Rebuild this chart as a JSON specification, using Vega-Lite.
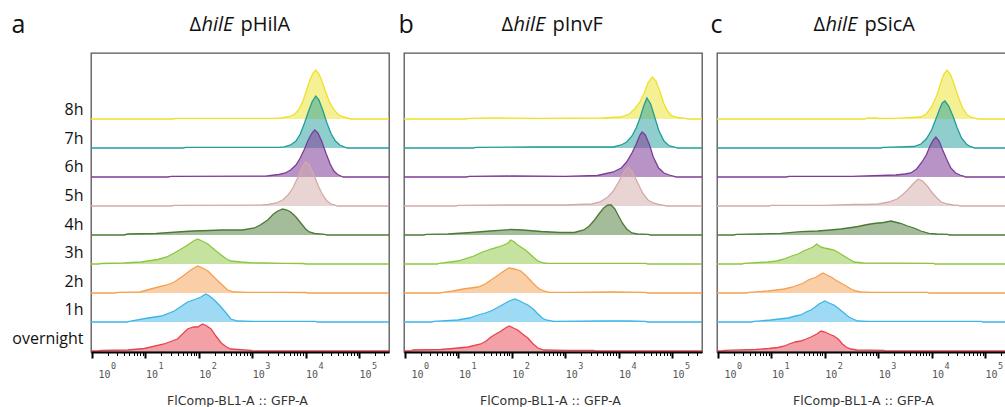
{
"$schema":"https://vega.github.io/schema/vega-lite/v6.json",
"padding":{"left":10,"top":11,"right":0,"bottom":0},
"config":{"view":{"stroke":"#555555","strokeWidth":1.3},"axis":{"grid":false},"font":"Open Sans"},
"datasets":{
"rows":[{"t":"8h"},{"t":"7h"},{"t":"6h"},{"t":"5h"},{"t":"4h"},{"t":"3h"},{"t":"2h"},{"t":"1h"},{"t":"overnight"}],
"a":[
{"t":"8h","lg":-0.019,"n":0},{"t":"8h","lg":1.5,"n":0},{"t":"8h","lg":1.6,"n":0.6},{"t":"8h","lg":3.4,"n":0.6},{"t":"8h","lg":3.55,"n":1},{"t":"8h","lg":3.7,"n":2.5},{"t":"8h","lg":3.8,"n":5},{"t":"8h","lg":3.88,"n":10},{"t":"8h","lg":3.95,"n":18},{"t":"8h","lg":4.02,"n":29},{"t":"8h","lg":4.08,"n":39},{"t":"8h","lg":4.14,"n":46},{"t":"8h","lg":4.19,"n":49},{"t":"8h","lg":4.24,"n":46},{"t":"8h","lg":4.3,"n":39},{"t":"8h","lg":4.37,"n":28},{"t":"8h","lg":4.44,"n":18},{"t":"8h","lg":4.52,"n":10},{"t":"8h","lg":4.6,"n":5},{"t":"8h","lg":4.68,"n":2.5},{"t":"8h","lg":4.78,"n":1},{"t":"8h","lg":4.85,"n":0},{"t":"8h","lg":5.562,"n":0},
{"t":"7h","lg":-0.019,"n":0},{"t":"7h","lg":1.7,"n":0},{"t":"7h","lg":1.76,"n":0.6},{"t":"7h","lg":3.5,"n":0.6},{"t":"7h","lg":3.6,"n":1.2},{"t":"7h","lg":3.72,"n":3},{"t":"7h","lg":3.82,"n":7},{"t":"7h","lg":3.9,"n":14},{"t":"7h","lg":3.98,"n":25},{"t":"7h","lg":4.05,"n":36},{"t":"7h","lg":4.12,"n":46},{"t":"7h","lg":4.19,"n":52},{"t":"7h","lg":4.25,"n":48},{"t":"7h","lg":4.32,"n":38},{"t":"7h","lg":4.4,"n":25},{"t":"7h","lg":4.48,"n":14},{"t":"7h","lg":4.56,"n":7},{"t":"7h","lg":4.64,"n":3},{"t":"7h","lg":4.72,"n":1.2},{"t":"7h","lg":4.78,"n":0},{"t":"7h","lg":5.562,"n":0},
{"t":"6h","lg":-0.019,"n":0},{"t":"6h","lg":1.42,"n":0},{"t":"6h","lg":1.48,"n":0.6},{"t":"6h","lg":3.25,"n":0.8},{"t":"6h","lg":3.35,"n":1.5},{"t":"6h","lg":3.5,"n":2.5},{"t":"6h","lg":3.62,"n":4},{"t":"6h","lg":3.72,"n":7},{"t":"6h","lg":3.82,"n":12},{"t":"6h","lg":3.9,"n":19},{"t":"6h","lg":3.98,"n":28},{"t":"6h","lg":4.05,"n":37},{"t":"6h","lg":4.12,"n":44},{"t":"6h","lg":4.17,"n":47},{"t":"6h","lg":4.23,"n":44},{"t":"6h","lg":4.3,"n":36},{"t":"6h","lg":4.38,"n":24},{"t":"6h","lg":4.46,"n":13},{"t":"6h","lg":4.53,"n":6},{"t":"6h","lg":4.6,"n":2.5},{"t":"6h","lg":4.66,"n":1},{"t":"6h","lg":4.7,"n":0},{"t":"6h","lg":5.562,"n":0},
{"t":"5h","lg":-0.019,"n":0},{"t":"5h","lg":1.48,"n":0},{"t":"5h","lg":1.54,"n":0.6},{"t":"5h","lg":3.15,"n":0.8},{"t":"5h","lg":3.3,"n":1.5},{"t":"5h","lg":3.45,"n":3},{"t":"5h","lg":3.57,"n":6},{"t":"5h","lg":3.67,"n":11},{"t":"5h","lg":3.76,"n":18},{"t":"5h","lg":3.85,"n":28},{"t":"5h","lg":3.93,"n":38},{"t":"5h","lg":4.0,"n":44},{"t":"5h","lg":4.07,"n":41},{"t":"5h","lg":4.15,"n":32},{"t":"5h","lg":4.23,"n":21},{"t":"5h","lg":4.32,"n":11},{"t":"5h","lg":4.4,"n":5},{"t":"5h","lg":4.48,"n":2},{"t":"5h","lg":4.55,"n":0.8},{"t":"5h","lg":4.6,"n":0},{"t":"5h","lg":5.562,"n":0},
{"t":"4h","lg":-0.019,"n":0},{"t":"4h","lg":0.6,"n":0},{"t":"4h","lg":0.67,"n":1},{"t":"4h","lg":1.2,"n":1.5},{"t":"4h","lg":1.6,"n":3},{"t":"4h","lg":1.89,"n":4},{"t":"4h","lg":2.2,"n":4.5},{"t":"4h","lg":2.42,"n":5},{"t":"4h","lg":2.82,"n":5},{"t":"4h","lg":3.04,"n":7},{"t":"4h","lg":3.15,"n":10},{"t":"4h","lg":3.29,"n":15},{"t":"4h","lg":3.4,"n":21},{"t":"4h","lg":3.48,"n":24},{"t":"4h","lg":3.57,"n":26},{"t":"4h","lg":3.65,"n":25},{"t":"4h","lg":3.72,"n":23},{"t":"4h","lg":3.82,"n":18},{"t":"4h","lg":3.91,"n":12},{"t":"4h","lg":4.0,"n":6},{"t":"4h","lg":4.07,"n":3},{"t":"4h","lg":4.17,"n":1.5},{"t":"4h","lg":4.36,"n":0.6},{"t":"4h","lg":4.4,"n":0},{"t":"4h","lg":5.562,"n":0},
{"t":"3h","lg":-0.019,"n":0},{"t":"3h","lg":0.12,"n":0},{"t":"3h","lg":0.17,"n":0.5},{"t":"3h","lg":0.6,"n":1},{"t":"3h","lg":0.92,"n":2},{"t":"3h","lg":1.23,"n":4.5},{"t":"3h","lg":1.4,"n":7},{"t":"3h","lg":1.54,"n":11},{"t":"3h","lg":1.7,"n":16},{"t":"3h","lg":1.79,"n":19},{"t":"3h","lg":1.9,"n":23},{"t":"3h","lg":1.98,"n":25},{"t":"3h","lg":2.06,"n":23},{"t":"3h","lg":2.17,"n":20},{"t":"3h","lg":2.3,"n":14},{"t":"3h","lg":2.42,"n":9},{"t":"3h","lg":2.52,"n":5},{"t":"3h","lg":2.6,"n":3},{"t":"3h","lg":2.79,"n":2},{"t":"3h","lg":3.0,"n":1.2},{"t":"3h","lg":3.22,"n":1},{"t":"3h","lg":3.6,"n":0.6},{"t":"3h","lg":3.95,"n":0.5},{"t":"3h","lg":4.0,"n":0},{"t":"3h","lg":5.562,"n":0},
{"t":"2h","lg":-0.019,"n":0},{"t":"2h","lg":0.44,"n":0},{"t":"2h","lg":0.48,"n":0.6},{"t":"2h","lg":0.9,"n":1},{"t":"2h","lg":1.17,"n":5},{"t":"2h","lg":1.4,"n":8},{"t":"2h","lg":1.54,"n":11},{"t":"2h","lg":1.73,"n":18},{"t":"2h","lg":1.85,"n":23},{"t":"2h","lg":1.98,"n":27},{"t":"2h","lg":2.07,"n":25},{"t":"2h","lg":2.17,"n":22},{"t":"2h","lg":2.36,"n":12},{"t":"2h","lg":2.54,"n":3},{"t":"2h","lg":2.66,"n":1},{"t":"2h","lg":2.92,"n":0.6},{"t":"2h","lg":3.5,"n":0.6},{"t":"2h","lg":4.0,"n":0.5},{"t":"2h","lg":4.05,"n":0},{"t":"2h","lg":5.562,"n":0},
{"t":"1h","lg":-0.019,"n":0},{"t":"1h","lg":0.65,"n":0},{"t":"1h","lg":0.7,"n":0.6},{"t":"1h","lg":1.05,"n":4},{"t":"1h","lg":1.3,"n":6},{"t":"1h","lg":1.54,"n":11},{"t":"1h","lg":1.79,"n":20},{"t":"1h","lg":1.95,"n":23},{"t":"1h","lg":2.04,"n":25},{"t":"1h","lg":2.13,"n":28},{"t":"1h","lg":2.2,"n":26},{"t":"1h","lg":2.29,"n":22},{"t":"1h","lg":2.4,"n":16},{"t":"1h","lg":2.48,"n":11},{"t":"1h","lg":2.6,"n":3},{"t":"1h","lg":2.73,"n":1},{"t":"1h","lg":3.0,"n":0.6},{"t":"1h","lg":4.18,"n":0.6},{"t":"1h","lg":4.22,"n":0},{"t":"1h","lg":5.562,"n":0},
{"t":"overnight","lg":-0.019,"n":0},{"t":"overnight","lg":0.12,"n":0},{"t":"overnight","lg":0.17,"n":0.5},{"t":"overnight","lg":0.67,"n":1},{"t":"overnight","lg":0.98,"n":2.5},{"t":"overnight","lg":1.35,"n":7},{"t":"overnight","lg":1.6,"n":12},{"t":"overnight","lg":1.79,"n":22},{"t":"overnight","lg":1.9,"n":24},{"t":"overnight","lg":1.98,"n":24},{"t":"overnight","lg":2.07,"n":27},{"t":"overnight","lg":2.15,"n":25},{"t":"overnight","lg":2.23,"n":22},{"t":"overnight","lg":2.32,"n":15},{"t":"overnight","lg":2.42,"n":8},{"t":"overnight","lg":2.52,"n":4},{"t":"overnight","lg":2.6,"n":2},{"t":"overnight","lg":2.98,"n":0.7},{"t":"overnight","lg":3.0,"n":0},{"t":"overnight","lg":5.562,"n":0}
],
"b":[
{"t":"8h","lg":-0.019,"n":0},{"t":"8h","lg":1.15,"n":0},{"t":"8h","lg":1.2,"n":0.6},{"t":"8h","lg":1.7,"n":1},{"t":"8h","lg":2.5,"n":0.6},{"t":"8h","lg":3.7,"n":1},{"t":"8h","lg":4.05,"n":2},{"t":"8h","lg":4.2,"n":5},{"t":"8h","lg":4.3,"n":10},{"t":"8h","lg":4.4,"n":17},{"t":"8h","lg":4.48,"n":26},{"t":"8h","lg":4.55,"n":36},{"t":"8h","lg":4.63,"n":42},{"t":"8h","lg":4.7,"n":38},{"t":"8h","lg":4.77,"n":28},{"t":"8h","lg":4.85,"n":15},{"t":"8h","lg":4.93,"n":7},{"t":"8h","lg":5.0,"n":3},{"t":"8h","lg":5.1,"n":1.5},{"t":"8h","lg":5.26,"n":0.6},{"t":"8h","lg":5.3,"n":0},{"t":"8h","lg":5.562,"n":0},
{"t":"7h","lg":-0.019,"n":0},{"t":"7h","lg":1.28,"n":0},{"t":"7h","lg":1.33,"n":0.6},{"t":"7h","lg":2.4,"n":1},{"t":"7h","lg":3.9,"n":1},{"t":"7h","lg":4.05,"n":3},{"t":"7h","lg":4.15,"n":6},{"t":"7h","lg":4.25,"n":12},{"t":"7h","lg":4.33,"n":20},{"t":"7h","lg":4.4,"n":30},{"t":"7h","lg":4.47,"n":42},{"t":"7h","lg":4.53,"n":50},{"t":"7h","lg":4.6,"n":44},{"t":"7h","lg":4.67,"n":32},{"t":"7h","lg":4.75,"n":18},{"t":"7h","lg":4.85,"n":7},{"t":"7h","lg":4.95,"n":2},{"t":"7h","lg":5.07,"n":0.6},{"t":"7h","lg":5.1,"n":0},{"t":"7h","lg":5.562,"n":0},
{"t":"6h","lg":-0.019,"n":0},{"t":"6h","lg":1.15,"n":0},{"t":"6h","lg":1.2,"n":0.6},{"t":"6h","lg":2.0,"n":1},{"t":"6h","lg":3.0,"n":0.6},{"t":"6h","lg":3.6,"n":1.5},{"t":"6h","lg":3.73,"n":3},{"t":"6h","lg":3.9,"n":5},{"t":"6h","lg":4.05,"n":9},{"t":"6h","lg":4.15,"n":15},{"t":"6h","lg":4.25,"n":24},{"t":"6h","lg":4.33,"n":33},{"t":"6h","lg":4.4,"n":42},{"t":"6h","lg":4.44,"n":45},{"t":"6h","lg":4.5,"n":42},{"t":"6h","lg":4.58,"n":32},{"t":"6h","lg":4.65,"n":20},{"t":"6h","lg":4.75,"n":9},{"t":"6h","lg":4.85,"n":4},{"t":"6h","lg":4.95,"n":2},{"t":"6h","lg":5.04,"n":0.6},{"t":"6h","lg":5.08,"n":0},{"t":"6h","lg":5.562,"n":0},
{"t":"5h","lg":-0.019,"n":0},{"t":"5h","lg":0.95,"n":0},{"t":"5h","lg":1.0,"n":0.6},{"t":"5h","lg":2.0,"n":1},{"t":"5h","lg":3.0,"n":1},{"t":"5h","lg":3.5,"n":2},{"t":"5h","lg":3.65,"n":4},{"t":"5h","lg":3.8,"n":9},{"t":"5h","lg":3.9,"n":15},{"t":"5h","lg":4.0,"n":24},{"t":"5h","lg":4.1,"n":34},{"t":"5h","lg":4.18,"n":39},{"t":"5h","lg":4.26,"n":34},{"t":"5h","lg":4.35,"n":24},{"t":"5h","lg":4.45,"n":13},{"t":"5h","lg":4.55,"n":6},{"t":"5h","lg":4.65,"n":3},{"t":"5h","lg":4.75,"n":1.5},{"t":"5h","lg":4.85,"n":0.6},{"t":"5h","lg":4.9,"n":0},{"t":"5h","lg":5.562,"n":0},
{"t":"4h","lg":-0.019,"n":0},{"t":"4h","lg":0.35,"n":0},{"t":"4h","lg":0.4,"n":0.6},{"t":"4h","lg":0.8,"n":1},{"t":"4h","lg":1.24,"n":2.5},{"t":"4h","lg":1.6,"n":4},{"t":"4h","lg":1.98,"n":5.5},{"t":"4h","lg":2.2,"n":5},{"t":"4h","lg":2.55,"n":3.5},{"t":"4h","lg":2.9,"n":2.5},{"t":"4h","lg":3.17,"n":2.5},{"t":"4h","lg":3.35,"n":5},{"t":"4h","lg":3.45,"n":9},{"t":"4h","lg":3.55,"n":15},{"t":"4h","lg":3.63,"n":21},{"t":"4h","lg":3.72,"n":27},{"t":"4h","lg":3.8,"n":30},{"t":"4h","lg":3.86,"n":30},{"t":"4h","lg":3.93,"n":26},{"t":"4h","lg":4.0,"n":19},{"t":"4h","lg":4.07,"n":12},{"t":"4h","lg":4.15,"n":6},{"t":"4h","lg":4.25,"n":2},{"t":"4h","lg":4.35,"n":1},{"t":"4h","lg":4.55,"n":0.6},{"t":"4h","lg":4.6,"n":0},{"t":"4h","lg":5.562,"n":0},
{"t":"3h","lg":-0.019,"n":0},{"t":"3h","lg":0.6,"n":0},{"t":"3h","lg":0.64,"n":0.6},{"t":"3h","lg":0.99,"n":3},{"t":"3h","lg":1.29,"n":8},{"t":"3h","lg":1.45,"n":12},{"t":"3h","lg":1.61,"n":15},{"t":"3h","lg":1.75,"n":17},{"t":"3h","lg":1.85,"n":19},{"t":"3h","lg":1.93,"n":21},{"t":"3h","lg":1.98,"n":24},{"t":"3h","lg":2.05,"n":22},{"t":"3h","lg":2.11,"n":19},{"t":"3h","lg":2.2,"n":16},{"t":"3h","lg":2.3,"n":12},{"t":"3h","lg":2.4,"n":7},{"t":"3h","lg":2.49,"n":3},{"t":"3h","lg":2.6,"n":1},{"t":"3h","lg":2.68,"n":0.7},{"t":"3h","lg":4.5,"n":0.6},{"t":"3h","lg":4.55,"n":0},{"t":"3h","lg":5.562,"n":0},
{"t":"2h","lg":-0.019,"n":0},{"t":"2h","lg":0.66,"n":0},{"t":"2h","lg":0.71,"n":0.6},{"t":"2h","lg":0.9,"n":2},{"t":"2h","lg":1.09,"n":4},{"t":"2h","lg":1.37,"n":6},{"t":"2h","lg":1.5,"n":9},{"t":"2h","lg":1.61,"n":13},{"t":"2h","lg":1.72,"n":17},{"t":"2h","lg":1.8,"n":20},{"t":"2h","lg":1.88,"n":23},{"t":"2h","lg":1.95,"n":25},{"t":"2h","lg":2.05,"n":24},{"t":"2h","lg":2.17,"n":22},{"t":"2h","lg":2.27,"n":17},{"t":"2h","lg":2.36,"n":12},{"t":"2h","lg":2.45,"n":7},{"t":"2h","lg":2.52,"n":4},{"t":"2h","lg":2.6,"n":2},{"t":"2h","lg":2.7,"n":0.7},{"t":"2h","lg":3.1,"n":0.6},{"t":"2h","lg":3.9,"n":1},{"t":"2h","lg":4.5,"n":0.6},{"t":"2h","lg":4.55,"n":0},{"t":"2h","lg":5.562,"n":0},
{"t":"1h","lg":-0.019,"n":0},{"t":"1h","lg":0.5,"n":0},{"t":"1h","lg":0.54,"n":0.6},{"t":"1h","lg":0.99,"n":2},{"t":"1h","lg":1.2,"n":4},{"t":"1h","lg":1.37,"n":7},{"t":"1h","lg":1.5,"n":9},{"t":"1h","lg":1.61,"n":11},{"t":"1h","lg":1.75,"n":15},{"t":"1h","lg":1.85,"n":18},{"t":"1h","lg":1.95,"n":21},{"t":"1h","lg":2.06,"n":23},{"t":"1h","lg":2.15,"n":21},{"t":"1h","lg":2.22,"n":19},{"t":"1h","lg":2.3,"n":17},{"t":"1h","lg":2.4,"n":13},{"t":"1h","lg":2.49,"n":8},{"t":"1h","lg":2.57,"n":4},{"t":"1h","lg":2.64,"n":2},{"t":"1h","lg":2.79,"n":0.6},{"t":"1h","lg":3.7,"n":1},{"t":"1h","lg":4.2,"n":1},{"t":"1h","lg":4.5,"n":0.6},{"t":"1h","lg":4.55,"n":0},{"t":"1h","lg":5.562,"n":0},
{"t":"overnight","lg":-0.019,"n":0},{"t":"overnight","lg":0.1,"n":0},{"t":"overnight","lg":0.15,"n":1},{"t":"overnight","lg":0.67,"n":1.5},{"t":"overnight","lg":0.9,"n":2.5},{"t":"overnight","lg":1.18,"n":4},{"t":"overnight","lg":1.42,"n":7},{"t":"overnight","lg":1.52,"n":10},{"t":"overnight","lg":1.61,"n":14},{"t":"overnight","lg":1.7,"n":17},{"t":"overnight","lg":1.8,"n":20},{"t":"overnight","lg":1.88,"n":23},{"t":"overnight","lg":1.95,"n":25},{"t":"overnight","lg":2.03,"n":23},{"t":"overnight","lg":2.11,"n":21},{"t":"overnight","lg":2.2,"n":17},{"t":"overnight","lg":2.3,"n":13},{"t":"overnight","lg":2.4,"n":7},{"t":"overnight","lg":2.49,"n":3},{"t":"overnight","lg":2.6,"n":1},{"t":"overnight","lg":3.0,"n":0.7},{"t":"overnight","lg":3.54,"n":0.6},{"t":"overnight","lg":3.56,"n":0},{"t":"overnight","lg":5.562,"n":0}
],
"c":[
{"t":"8h","lg":-0.019,"n":0},{"t":"8h","lg":2.75,"n":0},{"t":"8h","lg":2.8,"n":1},{"t":"8h","lg":2.96,"n":1},{"t":"8h","lg":3.0,"n":0.5},{"t":"8h","lg":3.33,"n":0.6},{"t":"8h","lg":3.8,"n":2},{"t":"8h","lg":3.9,"n":5},{"t":"8h","lg":4.0,"n":12},{"t":"8h","lg":4.1,"n":24},{"t":"8h","lg":4.17,"n":36},{"t":"8h","lg":4.23,"n":45},{"t":"8h","lg":4.29,"n":49},{"t":"8h","lg":4.35,"n":45},{"t":"8h","lg":4.42,"n":35},{"t":"8h","lg":4.5,"n":22},{"t":"8h","lg":4.58,"n":11},{"t":"8h","lg":4.67,"n":4},{"t":"8h","lg":4.75,"n":1.5},{"t":"8h","lg":4.83,"n":0.6},{"t":"8h","lg":4.86,"n":0},{"t":"8h","lg":5.562,"n":0},
{"t":"7h","lg":-0.019,"n":0},{"t":"7h","lg":3.05,"n":0},{"t":"7h","lg":3.09,"n":0.6},{"t":"7h","lg":3.67,"n":1.5},{"t":"7h","lg":3.8,"n":4},{"t":"7h","lg":3.9,"n":9},{"t":"7h","lg":4.0,"n":18},{"t":"7h","lg":4.08,"n":29},{"t":"7h","lg":4.15,"n":39},{"t":"7h","lg":4.2,"n":45},{"t":"7h","lg":4.25,"n":47},{"t":"7h","lg":4.32,"n":42},{"t":"7h","lg":4.4,"n":32},{"t":"7h","lg":4.48,"n":20},{"t":"7h","lg":4.56,"n":10},{"t":"7h","lg":4.65,"n":4},{"t":"7h","lg":4.72,"n":1.5},{"t":"7h","lg":4.78,"n":0.6},{"t":"7h","lg":4.8,"n":0},{"t":"7h","lg":5.562,"n":0},
{"t":"6h","lg":-0.019,"n":0},{"t":"6h","lg":1.28,"n":0},{"t":"6h","lg":1.33,"n":0.6},{"t":"6h","lg":2.5,"n":0.6},{"t":"6h","lg":3.33,"n":2},{"t":"6h","lg":3.5,"n":3},{"t":"6h","lg":3.61,"n":4},{"t":"6h","lg":3.72,"n":8},{"t":"6h","lg":3.82,"n":15},{"t":"6h","lg":3.9,"n":22},{"t":"6h","lg":3.97,"n":31},{"t":"6h","lg":4.03,"n":37},{"t":"6h","lg":4.08,"n":40},{"t":"6h","lg":4.14,"n":36},{"t":"6h","lg":4.2,"n":28},{"t":"6h","lg":4.28,"n":18},{"t":"6h","lg":4.36,"n":9},{"t":"6h","lg":4.45,"n":4},{"t":"6h","lg":4.53,"n":2},{"t":"6h","lg":4.61,"n":0.6},{"t":"6h","lg":4.63,"n":0},{"t":"6h","lg":5.562,"n":0},
{"t":"5h","lg":-0.019,"n":0},{"t":"5h","lg":0.95,"n":0},{"t":"5h","lg":0.99,"n":0.6},{"t":"5h","lg":2.0,"n":0.6},{"t":"5h","lg":2.55,"n":1.5},{"t":"5h","lg":2.8,"n":1.5},{"t":"5h","lg":3.0,"n":2},{"t":"5h","lg":3.2,"n":4},{"t":"5h","lg":3.35,"n":7},{"t":"5h","lg":3.45,"n":11},{"t":"5h","lg":3.55,"n":16},{"t":"5h","lg":3.65,"n":22},{"t":"5h","lg":3.75,"n":27},{"t":"5h","lg":3.83,"n":25},{"t":"5h","lg":3.92,"n":20},{"t":"5h","lg":4.0,"n":14},{"t":"5h","lg":4.1,"n":8},{"t":"5h","lg":4.18,"n":4},{"t":"5h","lg":4.3,"n":2},{"t":"5h","lg":4.4,"n":1},{"t":"5h","lg":4.51,"n":0.6},{"t":"5h","lg":4.53,"n":0},{"t":"5h","lg":5.562,"n":0},
{"t":"4h","lg":-0.019,"n":0},{"t":"4h","lg":0.3,"n":0},{"t":"4h","lg":0.34,"n":0.6},{"t":"4h","lg":0.8,"n":1},{"t":"4h","lg":1.18,"n":1.7},{"t":"4h","lg":1.55,"n":3.3},{"t":"4h","lg":1.87,"n":4},{"t":"4h","lg":2.1,"n":5},{"t":"4h","lg":2.3,"n":6},{"t":"4h","lg":2.5,"n":7.5},{"t":"4h","lg":2.62,"n":8.5},{"t":"4h","lg":2.8,"n":10.5},{"t":"4h","lg":2.92,"n":11.5},{"t":"4h","lg":3.1,"n":12.5},{"t":"4h","lg":3.24,"n":14},{"t":"4h","lg":3.35,"n":12.5},{"t":"4h","lg":3.43,"n":11.5},{"t":"4h","lg":3.55,"n":9},{"t":"4h","lg":3.67,"n":7},{"t":"4h","lg":3.8,"n":4},{"t":"4h","lg":3.95,"n":1.7},{"t":"4h","lg":4.1,"n":1},{"t":"4h","lg":4.31,"n":0.6},{"t":"4h","lg":4.33,"n":0},{"t":"4h","lg":5.562,"n":0},
{"t":"3h","lg":-0.019,"n":0},{"t":"3h","lg":0.45,"n":0},{"t":"3h","lg":0.49,"n":0.6},{"t":"3h","lg":0.94,"n":2},{"t":"3h","lg":1.1,"n":3},{"t":"3h","lg":1.24,"n":5},{"t":"3h","lg":1.38,"n":8},{"t":"3h","lg":1.5,"n":10},{"t":"3h","lg":1.6,"n":13},{"t":"3h","lg":1.69,"n":15},{"t":"3h","lg":1.78,"n":17},{"t":"3h","lg":1.85,"n":20},{"t":"3h","lg":1.92,"n":17},{"t":"3h","lg":1.99,"n":16},{"t":"3h","lg":2.08,"n":15},{"t":"3h","lg":2.17,"n":14},{"t":"3h","lg":2.27,"n":11},{"t":"3h","lg":2.36,"n":8},{"t":"3h","lg":2.45,"n":5},{"t":"3h","lg":2.55,"n":2},{"t":"3h","lg":2.72,"n":1},{"t":"3h","lg":4.04,"n":0.6},{"t":"3h","lg":4.06,"n":0},{"t":"3h","lg":5.562,"n":0},
{"t":"2h","lg":-0.019,"n":0},{"t":"2h","lg":0.54,"n":0},{"t":"2h","lg":0.58,"n":0.6},{"t":"2h","lg":0.94,"n":2},{"t":"2h","lg":1.24,"n":4},{"t":"2h","lg":1.4,"n":6},{"t":"2h","lg":1.5,"n":8},{"t":"2h","lg":1.6,"n":10},{"t":"2h","lg":1.69,"n":13},{"t":"2h","lg":1.84,"n":16},{"t":"2h","lg":1.9,"n":18},{"t":"2h","lg":1.96,"n":20},{"t":"2h","lg":2.04,"n":18},{"t":"2h","lg":2.12,"n":16},{"t":"2h","lg":2.2,"n":13},{"t":"2h","lg":2.3,"n":10},{"t":"2h","lg":2.4,"n":7},{"t":"2h","lg":2.49,"n":4},{"t":"2h","lg":2.58,"n":2},{"t":"2h","lg":2.68,"n":1},{"t":"2h","lg":2.9,"n":0.7},{"t":"2h","lg":3.93,"n":0.6},{"t":"2h","lg":3.95,"n":0},{"t":"2h","lg":5.562,"n":0},
{"t":"1h","lg":-0.019,"n":0},{"t":"1h","lg":0.63,"n":0},{"t":"1h","lg":0.67,"n":0.6},{"t":"1h","lg":0.99,"n":2},{"t":"1h","lg":1.15,"n":3},{"t":"1h","lg":1.31,"n":4},{"t":"1h","lg":1.45,"n":6},{"t":"1h","lg":1.55,"n":7},{"t":"1h","lg":1.65,"n":10},{"t":"1h","lg":1.74,"n":12},{"t":"1h","lg":1.82,"n":15},{"t":"1h","lg":1.89,"n":18},{"t":"1h","lg":2.0,"n":21},{"t":"1h","lg":2.08,"n":19},{"t":"1h","lg":2.17,"n":17},{"t":"1h","lg":2.27,"n":13},{"t":"1h","lg":2.36,"n":9},{"t":"1h","lg":2.45,"n":5},{"t":"1h","lg":2.53,"n":3},{"t":"1h","lg":2.62,"n":1},{"t":"1h","lg":2.8,"n":0.6},{"t":"1h","lg":4.93,"n":0.6},{"t":"1h","lg":4.96,"n":0},{"t":"1h","lg":5.562,"n":0},
{"t":"overnight","lg":-0.019,"n":0},{"t":"overnight","lg":0.08,"n":0},{"t":"overnight","lg":0.12,"n":0.6},{"t":"overnight","lg":0.71,"n":1.5},{"t":"overnight","lg":0.95,"n":2.5},{"t":"overnight","lg":1.12,"n":3.5},{"t":"overnight","lg":1.25,"n":5},{"t":"overnight","lg":1.33,"n":7},{"t":"overnight","lg":1.45,"n":9},{"t":"overnight","lg":1.55,"n":10},{"t":"overnight","lg":1.65,"n":12},{"t":"overnight","lg":1.74,"n":14},{"t":"overnight","lg":1.85,"n":17},{"t":"overnight","lg":1.93,"n":20},{"t":"overnight","lg":2.0,"n":19},{"t":"overnight","lg":2.08,"n":17},{"t":"overnight","lg":2.17,"n":15},{"t":"overnight","lg":2.25,"n":12},{"t":"overnight","lg":2.33,"n":7},{"t":"overnight","lg":2.4,"n":4},{"t":"overnight","lg":2.49,"n":2},{"t":"overnight","lg":2.6,"n":1},{"t":"overnight","lg":3.11,"n":0.6},{"t":"overnight","lg":3.13,"n":0},{"t":"overnight","lg":5.562,"n":0}
]
},
"spacing":15,
"bounds":"flush",
"hconcat":[
{"width":298,"height":299,"data":{"name":"a"},
"resolve":{"scale":{"y":"independent"},"axis":{"x":"independent","y":"independent"}},
"layer":[
{"data":{"name":"rows"},"mark":{"type":"point","opacity":0},"encoding":{"y":{"field":"t","type":"nominal","sort":null,"scale":{"type":"point","domain":["8h","7h","6h","5h","4h","3h","2h","1h","overnight"],"range":[56.5,285.5],"padding":0},"axis":{"orient":"left","domain":false,"ticks":false,"labelFont":"Open Sans","labelFontSize":16,"labelColor":"#111111","labelPadding":8,"title":"a","titleAngle":0,"titleX":-80,"titleY":-21,"titleAlign":"left","titleBaseline":"alphabetic","titleFont":"Open Sans","titleFontSize":25,"titleFontWeight":"normal","titleColor":"#111111"}}}},
{"transform":[{"filter":"datum.t=='8h'"}],"mark":{"type":"area","color":"#EDE12A","fillOpacity":0.5,"line":{"color":"#EDE12A","strokeWidth":1.3}},"encoding":{"x":{"field":"lg","type":"quantitative","scale":{"domain":[-0.019,5.562],"nice":false,"zero":false},"axis":{"orient":"top","domain":false,"ticks":false,"labels":false,"title":"hilE","titleFontStyle":"italic","titleFont":"Open Sans","titleFontSize":20,"titleFontWeight":"normal","titleColor":"#111111","titleX":110,"titleY":-23,"titleAlign":"left","titleBaseline":"alphabetic"}},"y":{"field":"n","type":"quantitative","scale":{"domain":[0,60],"range":[66,6],"nice":false},"axis":null}}},
{"transform":[{"filter":"datum.t=='7h'"}],"mark":{"type":"area","color":"#1F9E9A","fillOpacity":0.5,"line":{"color":"#1F9E9A","strokeWidth":1.3}},"encoding":{"x":{"field":"lg","type":"quantitative","scale":{"domain":[-0.019,5.562],"nice":false,"zero":false},"axis":null},"y":{"field":"n","type":"quantitative","scale":{"domain":[0,60],"range":[95,35],"nice":false},"axis":{"orient":"right","domain":false,"ticks":false,"labels":false,"title":"Δ","titleAngle":0,"titleFont":"Open Sans","titleFontSize":20,"titleFontWeight":"normal","titleColor":"#111111","titleX":-200,"titleY":-23,"titleAlign":"left","titleBaseline":"alphabetic"}}}},
{"transform":[{"filter":"datum.t=='6h'"}],"mark":{"type":"area","color":"#7D3C98","fillOpacity":0.55,"line":{"color":"#7D3C98","strokeWidth":1.3}},"encoding":{"x":{"field":"lg","type":"quantitative","scale":{"domain":[-0.019,5.562],"nice":false,"zero":false},"axis":null},"y":{"field":"n","type":"quantitative","scale":{"domain":[0,60],"range":[124,64],"nice":false},"axis":{"orient":"right","domain":false,"ticks":false,"labels":false,"title":"pHilA","titleAngle":0,"titleFont":"Open Sans","titleFontSize":20,"titleFontWeight":"normal","titleColor":"#111111","titleX":-149,"titleY":-23,"titleAlign":"left","titleBaseline":"alphabetic"}}}},
{"transform":[{"filter":"datum.t=='5h'"}],"mark":{"type":"area","color":"#D4A9A9","fillOpacity":0.5,"line":{"color":"#D4A9A9","strokeWidth":1.3}},"encoding":{"x":{"field":"lg","type":"quantitative","scale":{"domain":[-0.019,5.562],"nice":false,"zero":false},"axis":null},"y":{"field":"n","type":"quantitative","scale":{"domain":[0,60],"range":[153,93],"nice":false},"axis":null}}},
{"transform":[{"filter":"datum.t=='4h'"}],"mark":{"type":"area","color":"#4B7A35","fillOpacity":0.5,"line":{"color":"#4B7A35","strokeWidth":1.3}},"encoding":{"x":{"field":"lg","type":"quantitative","scale":{"domain":[-0.019,5.562],"nice":false,"zero":false},"axis":null},"y":{"field":"n","type":"quantitative","scale":{"domain":[0,60],"range":[182,122],"nice":false},"axis":null}}},
{"transform":[{"filter":"datum.t=='3h'"}],"mark":{"type":"area","color":"#8CC63E","fillOpacity":0.5,"line":{"color":"#8CC63E","strokeWidth":1.3}},"encoding":{"x":{"field":"lg","type":"quantitative","scale":{"domain":[-0.019,5.562],"nice":false,"zero":false},"axis":null},"y":{"field":"n","type":"quantitative","scale":{"domain":[0,60],"range":[211,151],"nice":false},"axis":null}}},
{"transform":[{"filter":"datum.t=='2h'"}],"mark":{"type":"area","color":"#F5A050","fillOpacity":0.5,"line":{"color":"#F5A050","strokeWidth":1.3}},"encoding":{"x":{"field":"lg","type":"quantitative","scale":{"domain":[-0.019,5.562],"nice":false,"zero":false},"axis":{"orient":"bottom","zindex":1,"domain":false,"labels":false,"ticks":true,"tickColor":"#000000","tickSize":3.5,"tickWidth":1,"values":[0.301,0.477,0.602,0.699,0.778,0.845,0.903,0.954,1.301,1.477,1.602,1.699,1.778,1.845,1.903,1.954,2.301,2.477,2.602,2.699,2.778,2.845,2.903,2.954,3.301,3.477,3.602,3.699,3.778,3.845,3.903,3.954,4.301,4.477,4.602,4.699,4.778,4.845,4.903,4.954,5.301,5.477],"title":null}},"y":{"field":"n","type":"quantitative","scale":{"domain":[0,60],"range":[240,180],"nice":false},"axis":null}}},
{"transform":[{"filter":"datum.t=='1h'"}],"mark":{"type":"area","color":"#3DB5E8","fillOpacity":0.5,"line":{"color":"#3DB5E8","strokeWidth":1.3}},"encoding":{"x":{"field":"lg","type":"quantitative","scale":{"domain":[-0.019,5.562],"nice":false,"zero":false},"axis":{"orient":"bottom","domain":false,"ticks":false,"values":[0,1,2,3,4,5],"labelExpr":"''+round(datum.value)","labelFont":"DejaVu Sans Mono","labelFontSize":8.5,"labelColor":"#555555","labelAlign":"left","labelBaseline":"alphabetic","labelOffset":{"condition":{"test":"datum.value==0","value":18.5},"value":12.5},"labelPadding":16,"labelFlush":false,"labelOverlap":false,"labelBound":false,"title":null}},"y":{"field":"n","type":"quantitative","scale":{"domain":[0,60],"range":[269,209],"nice":false},"axis":null}}},
{"transform":[{"filter":"datum.t=='overnight'"}],"mark":{"type":"area","color":"#E8434E","fillOpacity":0.5,"line":{"color":"#E8434E","strokeWidth":1.3}},"encoding":{"x":{"field":"lg","type":"quantitative","scale":{"domain":[-0.019,5.562],"nice":false,"zero":false},"axis":{"orient":"bottom","zindex":1,"values":[0,1,2,3,4,5],"domain":true,"domainColor":"#000000","domainWidth":2,"ticks":true,"tickColor":"#000000","tickSize":6,"tickWidth":2,"labelExpr":"'10'","labelFont":"DejaVu Sans Mono","labelFontSize":10,"labelColor":"#555555","labelAlign":"left","labelBaseline":"alphabetic","labelOffset":{"condition":{"test":"datum.value==0","value":6},"value":0},"labelPadding":19,"labelFlush":false,"labelOverlap":false,"labelBound":false,"title":"FlComp-BL1-A :: GFP-A","titleFont":"DejaVu Sans","titleFontSize":12.5,"titleFontWeight":"normal","titleColor":"#333333","titleX":146,"titleY":52,"titleAlign":"center","titleBaseline":"alphabetic"}},"y":{"field":"n","type":"quantitative","scale":{"domain":[0,60],"range":[298,238],"nice":false},"axis":null}}}
]},
{"width":298,"height":299,"data":{"name":"b"},
"resolve":{"scale":{"y":"independent"},"axis":{"x":"independent","y":"independent"}},
"layer":[
{"data":{"name":"rows"},"mark":{"type":"point","opacity":0},"encoding":{"y":{"field":"t","type":"nominal","sort":null,"scale":{"type":"point","domain":["8h","7h","6h","5h","4h","3h","2h","1h","overnight"],"range":[56.5,285.5],"padding":0},"axis":{"orient":"left","domain":false,"ticks":false,"labels":false,"title":"b","titleAngle":0,"titleX":-6,"titleY":-21,"titleAlign":"left","titleBaseline":"alphabetic","titleFont":"Open Sans","titleFontSize":25,"titleFontWeight":"normal","titleColor":"#111111"}}}},
{"transform":[{"filter":"datum.t=='8h'"}],"mark":{"type":"area","color":"#EDE12A","fillOpacity":0.5,"line":{"color":"#EDE12A","strokeWidth":1.3}},"encoding":{"x":{"field":"lg","type":"quantitative","scale":{"domain":[-0.019,5.562],"nice":false,"zero":false},"axis":{"orient":"top","domain":false,"ticks":false,"labels":false,"title":"hilE","titleFontStyle":"italic","titleFont":"Open Sans","titleFontSize":20,"titleFontWeight":"normal","titleColor":"#111111","titleX":109,"titleY":-23,"titleAlign":"left","titleBaseline":"alphabetic"}},"y":{"field":"n","type":"quantitative","scale":{"domain":[0,60],"range":[66,6],"nice":false},"axis":null}}},
{"transform":[{"filter":"datum.t=='7h'"}],"mark":{"type":"area","color":"#1F9E9A","fillOpacity":0.5,"line":{"color":"#1F9E9A","strokeWidth":1.3}},"encoding":{"x":{"field":"lg","type":"quantitative","scale":{"domain":[-0.019,5.562],"nice":false,"zero":false},"axis":null},"y":{"field":"n","type":"quantitative","scale":{"domain":[0,60],"range":[95,35],"nice":false},"axis":{"orient":"right","domain":false,"ticks":false,"labels":false,"title":"Δ","titleAngle":0,"titleFont":"Open Sans","titleFontSize":20,"titleFontWeight":"normal","titleColor":"#111111","titleX":-201,"titleY":-23,"titleAlign":"left","titleBaseline":"alphabetic"}}}},
{"transform":[{"filter":"datum.t=='6h'"}],"mark":{"type":"area","color":"#7D3C98","fillOpacity":0.55,"line":{"color":"#7D3C98","strokeWidth":1.3}},"encoding":{"x":{"field":"lg","type":"quantitative","scale":{"domain":[-0.019,5.562],"nice":false,"zero":false},"axis":null},"y":{"field":"n","type":"quantitative","scale":{"domain":[0,60],"range":[124,64],"nice":false},"axis":{"orient":"right","domain":false,"ticks":false,"labels":false,"title":"pInvF","titleAngle":0,"titleFont":"Open Sans","titleFontSize":20,"titleFontWeight":"normal","titleColor":"#111111","titleX":-150,"titleY":-23,"titleAlign":"left","titleBaseline":"alphabetic"}}}},
{"transform":[{"filter":"datum.t=='5h'"}],"mark":{"type":"area","color":"#D4A9A9","fillOpacity":0.5,"line":{"color":"#D4A9A9","strokeWidth":1.3}},"encoding":{"x":{"field":"lg","type":"quantitative","scale":{"domain":[-0.019,5.562],"nice":false,"zero":false},"axis":null},"y":{"field":"n","type":"quantitative","scale":{"domain":[0,60],"range":[153,93],"nice":false},"axis":null}}},
{"transform":[{"filter":"datum.t=='4h'"}],"mark":{"type":"area","color":"#4B7A35","fillOpacity":0.5,"line":{"color":"#4B7A35","strokeWidth":1.3}},"encoding":{"x":{"field":"lg","type":"quantitative","scale":{"domain":[-0.019,5.562],"nice":false,"zero":false},"axis":null},"y":{"field":"n","type":"quantitative","scale":{"domain":[0,60],"range":[182,122],"nice":false},"axis":null}}},
{"transform":[{"filter":"datum.t=='3h'"}],"mark":{"type":"area","color":"#8CC63E","fillOpacity":0.5,"line":{"color":"#8CC63E","strokeWidth":1.3}},"encoding":{"x":{"field":"lg","type":"quantitative","scale":{"domain":[-0.019,5.562],"nice":false,"zero":false},"axis":null},"y":{"field":"n","type":"quantitative","scale":{"domain":[0,60],"range":[211,151],"nice":false},"axis":null}}},
{"transform":[{"filter":"datum.t=='2h'"}],"mark":{"type":"area","color":"#F5A050","fillOpacity":0.5,"line":{"color":"#F5A050","strokeWidth":1.3}},"encoding":{"x":{"field":"lg","type":"quantitative","scale":{"domain":[-0.019,5.562],"nice":false,"zero":false},"axis":{"orient":"bottom","zindex":1,"domain":false,"labels":false,"ticks":true,"tickColor":"#000000","tickSize":3.5,"tickWidth":1,"values":[0.301,0.477,0.602,0.699,0.778,0.845,0.903,0.954,1.301,1.477,1.602,1.699,1.778,1.845,1.903,1.954,2.301,2.477,2.602,2.699,2.778,2.845,2.903,2.954,3.301,3.477,3.602,3.699,3.778,3.845,3.903,3.954,4.301,4.477,4.602,4.699,4.778,4.845,4.903,4.954,5.301,5.477],"title":null}},"y":{"field":"n","type":"quantitative","scale":{"domain":[0,60],"range":[240,180],"nice":false},"axis":null}}},
{"transform":[{"filter":"datum.t=='1h'"}],"mark":{"type":"area","color":"#3DB5E8","fillOpacity":0.5,"line":{"color":"#3DB5E8","strokeWidth":1.3}},"encoding":{"x":{"field":"lg","type":"quantitative","scale":{"domain":[-0.019,5.562],"nice":false,"zero":false},"axis":{"orient":"bottom","domain":false,"ticks":false,"values":[0,1,2,3,4,5],"labelExpr":"''+round(datum.value)","labelFont":"DejaVu Sans Mono","labelFontSize":8.5,"labelColor":"#555555","labelAlign":"left","labelBaseline":"alphabetic","labelOffset":{"condition":{"test":"datum.value==0","value":18.5},"value":12.5},"labelPadding":16,"labelFlush":false,"labelOverlap":false,"labelBound":false,"title":null}},"y":{"field":"n","type":"quantitative","scale":{"domain":[0,60],"range":[269,209],"nice":false},"axis":null}}},
{"transform":[{"filter":"datum.t=='overnight'"}],"mark":{"type":"area","color":"#E8434E","fillOpacity":0.5,"line":{"color":"#E8434E","strokeWidth":1.3}},"encoding":{"x":{"field":"lg","type":"quantitative","scale":{"domain":[-0.019,5.562],"nice":false,"zero":false},"axis":{"orient":"bottom","zindex":1,"values":[0,1,2,3,4,5],"domain":true,"domainColor":"#000000","domainWidth":2,"ticks":true,"tickColor":"#000000","tickSize":6,"tickWidth":2,"labelExpr":"'10'","labelFont":"DejaVu Sans Mono","labelFontSize":10,"labelColor":"#555555","labelAlign":"left","labelBaseline":"alphabetic","labelOffset":{"condition":{"test":"datum.value==0","value":6},"value":0},"labelPadding":19,"labelFlush":false,"labelOverlap":false,"labelBound":false,"title":"FlComp-BL1-A :: GFP-A","titleFont":"DejaVu Sans","titleFontSize":12.5,"titleFontWeight":"normal","titleColor":"#333333","titleX":146,"titleY":52,"titleAlign":"center","titleBaseline":"alphabetic"}},"y":{"field":"n","type":"quantitative","scale":{"domain":[0,60],"range":[298,238],"nice":false},"axis":null}}}
]},
{"width":298,"height":299,"data":{"name":"c"},
"resolve":{"scale":{"y":"independent"},"axis":{"x":"independent","y":"independent"}},
"layer":[
{"data":{"name":"rows"},"mark":{"type":"point","opacity":0},"encoding":{"y":{"field":"t","type":"nominal","sort":null,"scale":{"type":"point","domain":["8h","7h","6h","5h","4h","3h","2h","1h","overnight"],"range":[56.5,285.5],"padding":0},"axis":{"orient":"left","domain":false,"ticks":false,"labels":false,"title":"c","titleAngle":0,"titleX":-7,"titleY":-21,"titleAlign":"left","titleBaseline":"alphabetic","titleFont":"Open Sans","titleFontSize":25,"titleFontWeight":"normal","titleColor":"#111111"}}}},
{"transform":[{"filter":"datum.t=='8h'"}],"mark":{"type":"area","color":"#EDE12A","fillOpacity":0.5,"line":{"color":"#EDE12A","strokeWidth":1.3}},"encoding":{"x":{"field":"lg","type":"quantitative","scale":{"domain":[-0.019,5.562],"nice":false,"zero":false},"axis":{"orient":"top","domain":false,"ticks":false,"labels":false,"title":"hilE","titleFontStyle":"italic","titleFont":"Open Sans","titleFontSize":20,"titleFontWeight":"normal","titleColor":"#111111","titleX":108,"titleY":-23,"titleAlign":"left","titleBaseline":"alphabetic"}},"y":{"field":"n","type":"quantitative","scale":{"domain":[0,60],"range":[66,6],"nice":false},"axis":null}}},
{"transform":[{"filter":"datum.t=='7h'"}],"mark":{"type":"area","color":"#1F9E9A","fillOpacity":0.5,"line":{"color":"#1F9E9A","strokeWidth":1.3}},"encoding":{"x":{"field":"lg","type":"quantitative","scale":{"domain":[-0.019,5.562],"nice":false,"zero":false},"axis":null},"y":{"field":"n","type":"quantitative","scale":{"domain":[0,60],"range":[95,35],"nice":false},"axis":{"orient":"right","domain":false,"ticks":false,"labels":false,"title":"Δ","titleAngle":0,"titleFont":"Open Sans","titleFontSize":20,"titleFontWeight":"normal","titleColor":"#111111","titleX":-202,"titleY":-23,"titleAlign":"left","titleBaseline":"alphabetic"}}}},
{"transform":[{"filter":"datum.t=='6h'"}],"mark":{"type":"area","color":"#7D3C98","fillOpacity":0.55,"line":{"color":"#7D3C98","strokeWidth":1.3}},"encoding":{"x":{"field":"lg","type":"quantitative","scale":{"domain":[-0.019,5.562],"nice":false,"zero":false},"axis":null},"y":{"field":"n","type":"quantitative","scale":{"domain":[0,60],"range":[124,64],"nice":false},"axis":{"orient":"right","domain":false,"ticks":false,"labels":false,"title":"pSicA","titleAngle":0,"titleFont":"Open Sans","titleFontSize":20,"titleFontWeight":"normal","titleColor":"#111111","titleX":-151,"titleY":-23,"titleAlign":"left","titleBaseline":"alphabetic"}}}},
{"transform":[{"filter":"datum.t=='5h'"}],"mark":{"type":"area","color":"#D4A9A9","fillOpacity":0.5,"line":{"color":"#D4A9A9","strokeWidth":1.3}},"encoding":{"x":{"field":"lg","type":"quantitative","scale":{"domain":[-0.019,5.562],"nice":false,"zero":false},"axis":null},"y":{"field":"n","type":"quantitative","scale":{"domain":[0,60],"range":[153,93],"nice":false},"axis":null}}},
{"transform":[{"filter":"datum.t=='4h'"}],"mark":{"type":"area","color":"#4B7A35","fillOpacity":0.5,"line":{"color":"#4B7A35","strokeWidth":1.3}},"encoding":{"x":{"field":"lg","type":"quantitative","scale":{"domain":[-0.019,5.562],"nice":false,"zero":false},"axis":null},"y":{"field":"n","type":"quantitative","scale":{"domain":[0,60],"range":[182,122],"nice":false},"axis":null}}},
{"transform":[{"filter":"datum.t=='3h'"}],"mark":{"type":"area","color":"#8CC63E","fillOpacity":0.5,"line":{"color":"#8CC63E","strokeWidth":1.3}},"encoding":{"x":{"field":"lg","type":"quantitative","scale":{"domain":[-0.019,5.562],"nice":false,"zero":false},"axis":null},"y":{"field":"n","type":"quantitative","scale":{"domain":[0,60],"range":[211,151],"nice":false},"axis":null}}},
{"transform":[{"filter":"datum.t=='2h'"}],"mark":{"type":"area","color":"#F5A050","fillOpacity":0.5,"line":{"color":"#F5A050","strokeWidth":1.3}},"encoding":{"x":{"field":"lg","type":"quantitative","scale":{"domain":[-0.019,5.562],"nice":false,"zero":false},"axis":{"orient":"bottom","zindex":1,"domain":false,"labels":false,"ticks":true,"tickColor":"#000000","tickSize":3.5,"tickWidth":1,"values":[0.301,0.477,0.602,0.699,0.778,0.845,0.903,0.954,1.301,1.477,1.602,1.699,1.778,1.845,1.903,1.954,2.301,2.477,2.602,2.699,2.778,2.845,2.903,2.954,3.301,3.477,3.602,3.699,3.778,3.845,3.903,3.954,4.301,4.477,4.602,4.699,4.778,4.845,4.903,4.954,5.301,5.477],"title":null}},"y":{"field":"n","type":"quantitative","scale":{"domain":[0,60],"range":[240,180],"nice":false},"axis":null}}},
{"transform":[{"filter":"datum.t=='1h'"}],"mark":{"type":"area","color":"#3DB5E8","fillOpacity":0.5,"line":{"color":"#3DB5E8","strokeWidth":1.3}},"encoding":{"x":{"field":"lg","type":"quantitative","scale":{"domain":[-0.019,5.562],"nice":false,"zero":false},"axis":{"orient":"bottom","domain":false,"ticks":false,"values":[0,1,2,3,4,5],"labelExpr":"''+round(datum.value)","labelFont":"DejaVu Sans Mono","labelFontSize":8.5,"labelColor":"#555555","labelAlign":"left","labelBaseline":"alphabetic","labelOffset":{"condition":{"test":"datum.value==0","value":18.5},"value":12.5},"labelPadding":16,"labelFlush":false,"labelOverlap":false,"labelBound":false,"title":null}},"y":{"field":"n","type":"quantitative","scale":{"domain":[0,60],"range":[269,209],"nice":false},"axis":null}}},
{"transform":[{"filter":"datum.t=='overnight'"}],"mark":{"type":"area","color":"#E8434E","fillOpacity":0.5,"line":{"color":"#E8434E","strokeWidth":1.3}},"encoding":{"x":{"field":"lg","type":"quantitative","scale":{"domain":[-0.019,5.562],"nice":false,"zero":false},"axis":{"orient":"bottom","zindex":1,"values":[0,1,2,3,4,5],"domain":true,"domainColor":"#000000","domainWidth":2,"ticks":true,"tickColor":"#000000","tickSize":6,"tickWidth":2,"labelExpr":"'10'","labelFont":"DejaVu Sans Mono","labelFontSize":10,"labelColor":"#555555","labelAlign":"left","labelBaseline":"alphabetic","labelOffset":{"condition":{"test":"datum.value==0","value":6},"value":0},"labelPadding":19,"labelFlush":false,"labelOverlap":false,"labelBound":false,"title":"FlComp-BL1-A :: GFP-A","titleFont":"DejaVu Sans","titleFontSize":12.5,"titleFontWeight":"normal","titleColor":"#333333","titleX":146,"titleY":52,"titleAlign":"center","titleBaseline":"alphabetic"}},"y":{"field":"n","type":"quantitative","scale":{"domain":[0,60],"range":[298,238],"nice":false},"axis":null}}}
]}
]
}
